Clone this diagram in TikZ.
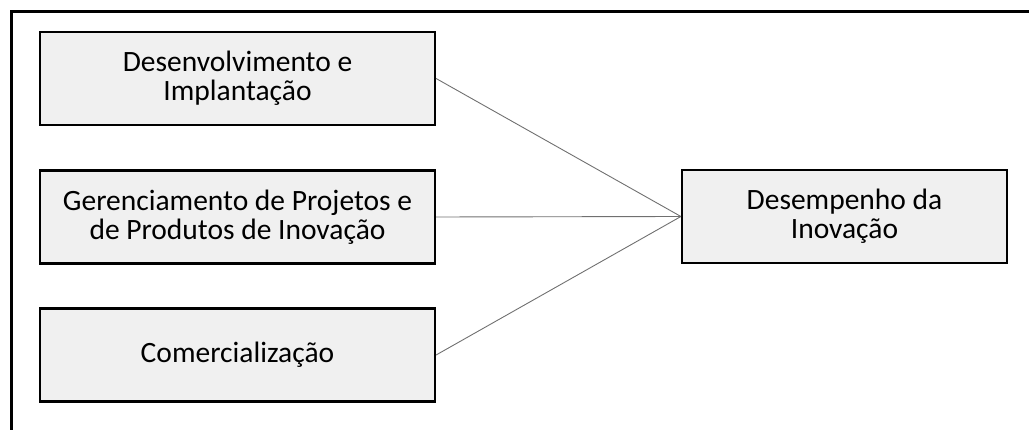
\documentclass[tikz,border=0pt]{standalone}
\usepackage{fontspec}
\setmainfont{Carlito}
\definecolor{boxfill}{HTML}{F0F0F0}
\definecolor{linkgray}{HTML}{707070}
\begin{document}
\begin{tikzpicture}[x=1pt,y=-1pt,
  blockbox/.style={draw=black,line width=2.2pt,fill=boxfill,minimum height=93pt,
    align=center,font=\fontsize{29.5}{29}\selectfont,inner sep=0pt},
  link/.style={draw=linkgray,line width=0.9pt}]
\useasboundingbox (0,0) rectangle (1029,430);
\draw[line width=3pt] (11,430) -- (11,11.5) -- (1029,11.5);
\node[blockbox,minimum width=395pt] (dev) at (237.5,78.5) {Desenvolvimento e\\Implantação};
\node[blockbox,minimum width=395pt] (ger) at (237.5,217) {Gerenciamento de Projetos e\\de Produtos de Inovação};
\node[blockbox,minimum width=395pt] (com) at (237.5,355) {Comercialização};
\node[blockbox,minimum width=325pt] (des) at (844.5,216.5) {Desempenho da\\Inovação};
\draw[link] (dev.east) -- (des.west);
\draw[link] (ger.east) -- (des.west);
\draw[link] (com.east) -- (des.west);
\end{tikzpicture}
\end{document}
